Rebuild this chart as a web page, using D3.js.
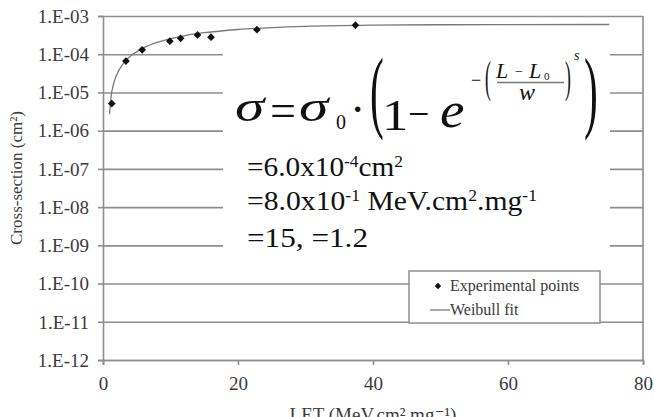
<!DOCTYPE html>
<html>
<head>
<meta charset="utf-8">
<script src="https://cdn.jsdelivr.net/npm/d3@7"></script>
<style>
html,body{margin:0;padding:0;background:#fff;}
svg{display:block;}
</style>
</head>
<body>
<svg id="chart" width="654" height="417"></svg>
<script>
// ---- data ----
const expLET = [1.3, 3.4, 5.8, 9.9, 11.5, 14.0, 16.0, 22.8, 37.4];
const expSigma = [5.1e-6, 6.6e-5, 1.3e-4, 2.2e-4, 2.6e-4, 3.2e-4, 2.8e-4, 4.4e-4, 5.75e-4];
const fitLET = [0.97, 1.2, 1.6, 2, 3, 4, 5, 6, 8, 10, 12, 15, 20, 25, 30, 40, 50, 60, 75];
const fitSigma = [2.7e-6, 7.7e-6, 1.76e-5, 2.83e-5, 5.7e-5, 8.7e-5, 1.17e-4, 1.47e-4, 2.03e-4, 2.56e-4, 3.03e-4, 3.65e-4, 4.44e-4, 4.98e-4, 5.35e-4, 5.75e-4, 5.91e-4, 5.97e-4, 6.0e-4];
const yTickValues = [1e-12, 1e-11, 1e-10, 1e-9, 1e-8, 1e-7, 1e-6, 1e-5, 1e-4, 1e-3];
const yTickLabels = ["1.E-12", "1.E-11", "1.E-10", "1.E-09", "1.E-08", "1.E-07", "1.E-06", "1.E-05", "1.E-04", "1.E-03"];
const xTickValues = [0, 20, 40, 60, 80];
const legendLabels = ["Experimental points", "Weibull fit"];

// ---- layout ----
const FONT = "'Liberation Serif', 'Times New Roman', 'DejaVu Serif', serif";
const svg = d3.select("#chart").style("font-family", FONT);
const L = 103, R = 643, T = 16, B = 360;
const x = d3.scaleLinear().domain([0, 80]).range([L, R]);
const y = d3.scaleLog().domain([1e-12, 1e-3]).range([B, T]);
const gridCol = "#8e8e8e";
const textCol = "#3a3a3a";

// gridlines
svg.append("g")
  .attr("transform", `translate(${L},0)`)
  .call(d3.axisLeft(y).tickValues(yTickValues).tickSize(-(R - L)).tickFormat(""))
  .call(g => g.select(".domain").remove())
  .call(g => g.selectAll("line").attr("stroke", gridCol).attr("stroke-width", 1.6));

// right border
svg.append("line").attr("x1", R).attr("x2", R).attr("y1", T).attr("y2", B)
  .attr("stroke", gridCol).attr("stroke-width", 1.6);

// y axis
const yAxis = svg.append("g")
  .attr("transform", `translate(${L},0)`)
  .call(d3.axisLeft(y).tickValues(yTickValues).tickSize(5).tickPadding(9)
    .tickFormat((d, i) => yTickLabels[i]));
yAxis.attr("font-family", null).style("font-family", FONT);
yAxis.select(".domain").attr("stroke", gridCol).attr("stroke-width", 1.6);
yAxis.selectAll("line").attr("stroke", gridCol).attr("stroke-width", 1.6);
yAxis.selectAll("text").attr("fill", textCol).attr("font-size", 19)
  .style("font-family", FONT).attr("dy", "0.33em");

// x axis
const xAxis = svg.append("g")
  .attr("transform", `translate(0,${B})`)
  .call(d3.axisBottom(x).tickValues(xTickValues).tickSize(5).tickPadding(12).tickFormat(d3.format("d")));
xAxis.attr("font-family", null).style("font-family", FONT);
xAxis.select(".domain").attr("stroke", gridCol).attr("stroke-width", 1.6);
xAxis.selectAll("line").attr("stroke", gridCol).attr("stroke-width", 1.6);
xAxis.selectAll("text").attr("fill", textCol).attr("font-size", 19)
  .style("font-family", FONT);

// fit curve
const fitData = fitLET.map((v, i) => [v, fitSigma[i]]);
svg.append("path").datum(fitData)
  .attr("fill", "none").attr("stroke", "#7a7a7a").attr("stroke-width", 1.3)
  .attr("d", d3.line().x(d => x(d[0])).y(d => y(d[1])).curve(d3.curveMonotoneX));

// experimental points
svg.append("g").selectAll("path").data(expLET.map((v, i) => [v, expSigma[i]]))
  .join("path")
  .attr("transform", d => `translate(${x(d[0])},${y(d[1])}) rotate(45)`)
  .attr("d", d3.symbol().type(d3.symbolSquare).size(30))
  .attr("fill", "#111");

// equation box (white, hides gridlines)
svg.append("rect").attr("x", 223).attr("y", 40).attr("width", 387).attr("height", 215).attr("fill", "#fff");

// equation
const eq = svg.append("g").attr("fill", "#111");
function glyph(t, gx, gy, size, opts = {}) {
  const el = eq.append("text").text(t)
    .attr("font-size", size)
    .style("font-family", FONT)
    .attr("transform", `translate(${gx},${gy}) scale(${opts.sx || 1},${opts.sy || 1})`);
  if (opts.italic) el.attr("font-style", "italic");
  if (opts.anchor) el.attr("text-anchor", opts.anchor);
  return el;
}
glyph("σ", 235, 121, 44, {italic: true, sx: 1.35});
glyph("=", 270, 126, 46, {sx: 1.0});
glyph("σ", 299, 121, 44, {italic: true, sx: 1.35});
glyph("0", 336, 129, 20);
glyph("·", 350, 125, 46);
glyph("(", 370, 121, 92, {sx: 0.45});
glyph("1", 382, 130, 44, {sx: 1.2});
glyph("−", 408, 127, 40, {sx: 0.95});
glyph("e", 440, 127, 50, {italic: true, sx: 1.1});
glyph("−", 471, 86, 18);
glyph("(", 485, 92, 44, {sx: 0.4});
glyph("L", 496, 78, 22, {italic: true});
glyph("−", 515, 76, 14);
glyph("L", 529, 78, 22, {italic: true});
glyph("0", 544, 80, 11);
eq.append("line").attr("x1", 497).attr("x2", 564).attr("y1", 82.5).attr("y2", 82.5)
  .attr("stroke", "#777").attr("stroke-width", 1.3);
glyph("w", 519, 100, 24, {italic: true});
glyph(")", 565, 92, 44, {sx: 0.4});
glyph("s", 574, 60, 14, {italic: true});
glyph(")", 584, 121, 92, {sx: 0.45});

// parameter lines
function paramLine(parts, py, len) {
  const t = svg.append("text").attr("x", 247).attr("y", py).attr("font-size", 27).attr("fill", "#111")
    .style("font-family", FONT)
    .attr("textLength", len).attr("lengthAdjust", "spacingAndGlyphs");
  parts.forEach(p => {
    const ts = t.append("tspan").text(p.t);
    if (p.sup) ts.attr("font-size", 16).attr("baseline-shift", "55%");
  });
}
paramLine([{t: "=6.0x10"}, {t: "-4", sup: true}, {t: "cm"}, {t: "2", sup: true}], 176, 156);
paramLine([{t: "=8.0x10"}, {t: "-1", sup: true}, {t: " MeV.cm"}, {t: "2", sup: true}, {t: ".mg"}, {t: "-1", sup: true}], 210, 290);
paramLine([{t: "=15,  =1.2"}], 247, 121);

// legend
const lg = svg.append("g");
lg.append("rect").attr("x", 409).attr("y", 271).attr("width", 191).attr("height", 52)
  .attr("fill", "#fff").attr("stroke", gridCol).attr("stroke-width", 1.5);
lg.append("path").attr("transform", "translate(438,286) rotate(45)")
  .attr("d", d3.symbol().type(d3.symbolSquare).size(20)).attr("fill", "#111");
lg.append("line").attr("x1", 430).attr("x2", 450).attr("y1", 310).attr("y2", 310)
  .attr("stroke", "#7a7a7a").attr("stroke-width", 1.3);
lg.selectAll("text.lab").data(legendLabels).join("text").attr("class", "lab")
  .attr("x", 450).attr("y", (d, i) => 291 + i * 24)
  .style("font-family", FONT)
  .attr("font-size", 16).attr("fill", textCol).text(d => d);

// axis titles
svg.append("text").attr("transform", "translate(22,178) rotate(-90)")
  .attr("text-anchor", "middle").attr("font-size", 17).attr("fill", textCol)
  .style("font-family", FONT)
  .text("Cross-section (cm²)");
svg.append("text").attr("x", 373).attr("y", 421).attr("text-anchor", "middle")
  .attr("font-size", 19).attr("fill", textCol)
  .style("font-family", FONT)
  .text("LET (MeV.cm².mg⁻¹)");
</script>
</body>
</html>
